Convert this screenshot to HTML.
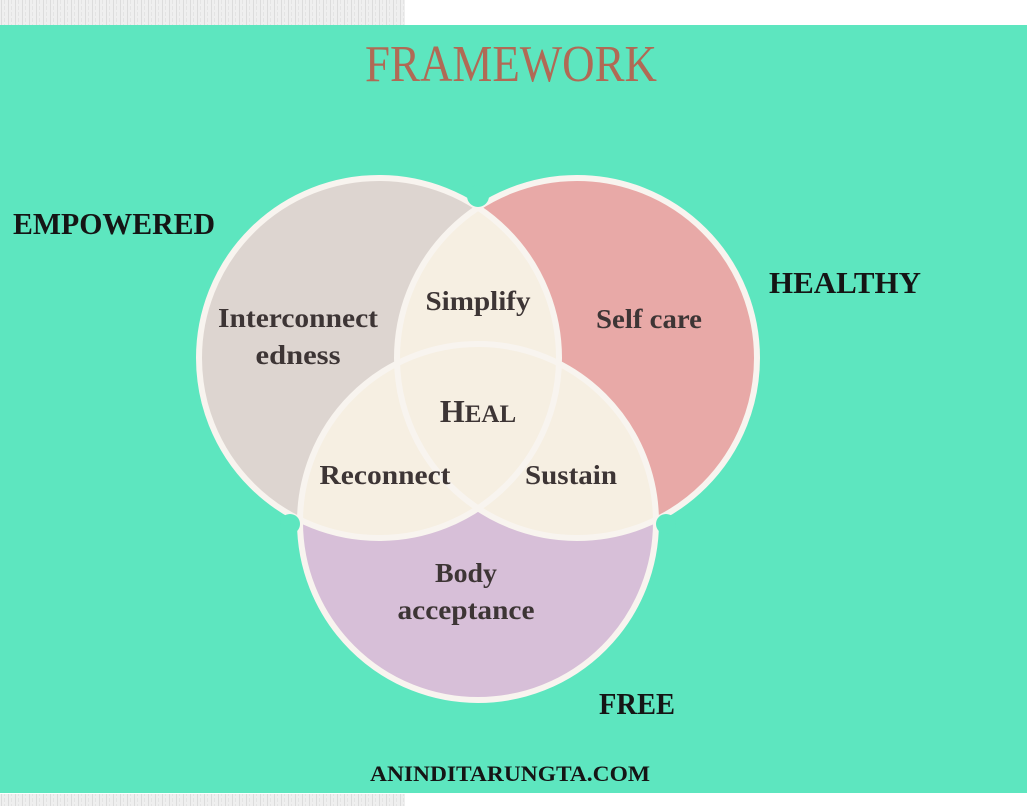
<!DOCTYPE html>
<html><head><meta charset="utf-8"><style>
html,body{margin:0;padding:0;background:#fff;}
svg{display:block;}
</style></head><body>
<svg width="1032" height="806" viewBox="0 0 1032 806" xmlns="http://www.w3.org/2000/svg">
<defs>
<pattern id="nz" width="7" height="6" patternUnits="userSpaceOnUse">
<rect width="7" height="6" fill="#efefef"/>
<rect x="1" width="1" height="6" fill="#dcdcdc"/>
<rect x="4" y="0" width="1" height="4" fill="#e4e4e4"/>
</pattern>
<clipPath id="c1"><circle cx="379" cy="358" r="180"/></clipPath>
<clipPath id="c2"><circle cx="577" cy="358" r="180"/></clipPath>
</defs>
<rect x="0" y="0" width="405" height="25" fill="url(#nz)"/>
<rect x="0" y="794" width="405" height="12" fill="url(#nz)"/>
<rect x="0" y="25" width="1027" height="768" fill="#5de6bf"/>

<text x="511" y="81" text-anchor="middle" font-family="Liberation Serif, serif" font-size="52" fill="#b06a55" textLength="292" lengthAdjust="spacingAndGlyphs">FRAMEWORK</text>

<circle cx="379" cy="358" r="180" fill="#ddd5d0"/>
<circle cx="577" cy="358" r="180" fill="#e8a9a7"/>
<circle cx="478" cy="522" r="178" fill="#d7bfd8"/>
<g clip-path="url(#c1)">
<circle cx="577" cy="358" r="180" fill="#f6efe2"/>
<circle cx="478" cy="522" r="178" fill="#f6efe2"/>
</g>
<g clip-path="url(#c2)">
<circle cx="478" cy="522" r="178" fill="#f6efe2"/>
</g>
<g fill="none" stroke="#f8f4ef" stroke-width="6">
<circle cx="379" cy="358" r="180"/>
<circle cx="577" cy="358" r="180"/>
<circle cx="478" cy="522" r="178"/>
</g>
<g fill="#5de6bf">
<circle cx="478" cy="196" r="11"/>
<circle cx="290" cy="524" r="10"/>
<circle cx="666" cy="524" r="10"/>
</g>

<g font-family="Liberation Serif, serif" font-weight="bold" fill="#3d3535" font-size="27" text-anchor="middle">
<text x="298" y="327" textLength="160" lengthAdjust="spacingAndGlyphs">Interconnect</text>
<text x="298" y="364" textLength="85" lengthAdjust="spacingAndGlyphs">edness</text>
<text x="478" y="310" textLength="105" lengthAdjust="spacingAndGlyphs">Simplify</text>
<text x="649" y="328" textLength="106" lengthAdjust="spacingAndGlyphs">Self care</text>
<text x="478" y="422" font-size="32">H<tspan font-size="25">EAL</tspan></text>
<text x="385" y="484" textLength="131" lengthAdjust="spacingAndGlyphs">Reconnect</text>
<text x="571" y="484" textLength="92" lengthAdjust="spacingAndGlyphs">Sustain</text>
<text x="466" y="582" textLength="62" lengthAdjust="spacingAndGlyphs">Body</text>
<text x="466" y="619" textLength="137" lengthAdjust="spacingAndGlyphs">acceptance</text>
</g>

<g font-family="Liberation Serif, serif" font-weight="bold" fill="#151515" font-size="31">
<text x="13" y="234" textLength="202" lengthAdjust="spacingAndGlyphs">EMPOWERED</text>
<text x="769" y="293" textLength="152" lengthAdjust="spacingAndGlyphs">HEALTHY</text>
<text x="599" y="714" textLength="76" lengthAdjust="spacingAndGlyphs">FREE</text>
</g>
<text x="370" y="781" font-family="Liberation Serif, serif" font-weight="bold" font-size="22" fill="#151515" textLength="280" lengthAdjust="spacingAndGlyphs">ANINDITARUNGTA.COM</text>
</svg>
</body></html>
